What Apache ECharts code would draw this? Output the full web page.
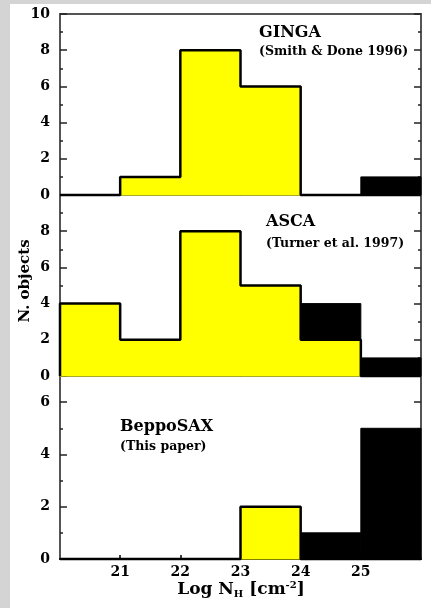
<!DOCTYPE html>
<html>
<head>
<meta charset="utf-8">
<script src="https://cdn.jsdelivr.net/npm/echarts@6/dist/echarts.min.js"></script>
<style>
  html, body { margin: 0; padding: 0; background: #d4d4d4; }
  #chart { width: 431px; height: 608px; }
</style>
</head>
<body>
<div id="chart"></div>
<script>
// Bin edges in Log N_H (cm^-2)
const binEdges = [20, 21, 22, 23, 24, 25, 26];
const xTickLabels = [21, 22, 23, 24, 25];

// Counts per bin: yellow = measured column, black = lower limit / Compton-thick
const gingaYellow = [0, 1, 8, 6, 0, 0];
const gingaBlack  = [0, 0, 0, 0, 0, 1];
const ascaYellow  = [4, 2, 8, 5, 2, 0];
const ascaBlack   = [0, 0, 0, 0, 2, 1];
const saxYellow   = [0, 0, 0, 2, 0, 0];
const saxBlack    = [0, 0, 0, 0, 1, 5];

// Y scales of the three panels
const yMax = [10, 10, 7];
const yMajor = [[0, 2, 4, 6, 8, 10], [0, 2, 4, 6, 8, 10], [0, 2, 4, 6]];
const yMinor = [[1, 3, 5, 7, 9], [1, 3, 5, 7, 9], [1, 3, 5, 7]];
const yLabels = [[0, 2, 4, 6, 8, 10], [0, 2, 4, 6, 8], [0, 2, 4, 6]];

const panels = [
  { yellow: gingaYellow, black: gingaBlack },
  { yellow: ascaYellow, black: ascaBlack },
  { yellow: saxYellow, black: saxBlack }
];

const FONT = 'DejaVu Serif';
const gridTops = [14, 195, 376];
const gridHeights = [181, 181, 183];

const grids = [], xAxes = [], yAxes = [], series = [];

panels.forEach((p, i) => {
  grids.push({
    left: 60, right: 10, top: gridTops[i], height: gridHeights[i],
    show: true, borderColor: '#555', borderWidth: 2, backgroundColor: 'transparent'
  });
  const last = i === panels.length - 1;
  xAxes.push({
    gridIndex: i, type: 'value', min: 20, max: 26,
    axisLine: { show: last, onZero: false, lineStyle: { color: '#000', width: 2 } },
    axisTick: { show: last, inside: true, length: 4, customValues: xTickLabels,
                lineStyle: { color: '#000', width: 1.5 } },
    axisLabel: { show: last, customValues: xTickLabels, margin: 6,
                 fontFamily: FONT, fontWeight: 'bold', fontSize: 14, color: '#000' },
    splitLine: { show: false }
  });
  ['left', 'right'].forEach(side => {
    yAxes.push({
      gridIndex: i, type: 'value', position: side, min: 0, max: yMax[i],
      axisLine: { show: false },
      axisTick: { show: true, inside: true, length: 7, customValues: yMajor[i],
                  lineStyle: { color: '#222', width: 1.5 } },
      axisLabel: { show: side === 'left', customValues: yLabels[i], margin: 10,
                   fontFamily: FONT, fontWeight: 'bold', fontSize: 14, color: '#000' },
      splitLine: { show: false }
    });
    yAxes.push({
      gridIndex: i, type: 'value', position: side, min: 0, max: yMax[i],
      axisLine: { show: false },
      axisTick: { show: true, inside: true, length: 3, customValues: yMinor[i],
                  lineStyle: { color: '#222', width: 1.5 } },
      axisLabel: { show: false },
      splitLine: { show: false }
    });
  });
  const yIdx = i * 4;

  // Filled bins: yellow from zero, black stacked on top of the yellow
  const binData = p.yellow.map((v, k) => [binEdges[k], binEdges[k + 1], v, p.black[k]]);
  series.push({
    type: 'custom', xAxisIndex: i, yAxisIndex: yIdx, z: 2,
    encode: { x: [0, 1], y: [2, 3] },
    data: binData,
    renderItem: (params, api) => {
      const x0 = api.value(0), x1 = api.value(1), yv = api.value(2), bv = api.value(3);
      const children = [];
      if (yv > 0) {
        const a = api.coord([x0, yv]), b = api.coord([x1, 0]);
        children.push({ type: 'rect', shape: { x: a[0], y: a[1], width: b[0] - a[0], height: b[1] - a[1] },
                        style: { fill: '#ffff00', stroke: '#ffff00', lineWidth: 1 } });
      }
      if (bv > 0) {
        const a = api.coord([x0, yv + bv]), b = api.coord([x1, yv]);
        children.push({ type: 'rect', shape: { x: a[0], y: a[1], width: b[0] - a[0], height: b[1] - a[1] },
                        style: { fill: '#000', stroke: '#000', lineWidth: 1 } });
      }
      return { type: 'group', children };
    }
  });

  // Step outline of the yellow histogram
  const outline = [[binEdges[0], 0]];
  p.yellow.forEach((v, k) => { outline.push([binEdges[k], v]); outline.push([binEdges[k + 1], v]); });
  outline.push([binEdges[binEdges.length - 1], 0]);
  series.push({
    type: 'line', xAxisIndex: i, yAxisIndex: yIdx, z: 3,
    data: outline, showSymbol: false, symbol: 'none', clip: false,
    lineStyle: { color: '#000', width: 2.5 }, silent: true
  });
});

const txt = (x, y, text, size) => ({
  type: 'text', x, y, z: 10,
  style: { text, fill: '#000', font: `bold ${size}px "${FONT}"`,
           textAlign: 'left', textVerticalAlign: 'middle' }
});

const chart = echarts.init(document.getElementById('chart'), null, { renderer: 'canvas' });
chart.setOption({
  backgroundColor: '#d4d4d4',
  animation: false,
  grid: grids,
  xAxis: xAxes,
  yAxis: yAxes,
  series,
  graphic: [
    { type: 'rect', shape: { x: 10, y: 4, width: 421, height: 604 }, style: { fill: '#fff' }, z: -10 },
    txt(259, 33, 'GINGA', 16),
    txt(259, 52, '(Smith & Done 1996)', 12.5),
    txt(266, 222, 'ASCA', 16),
    txt(266, 244, '(Turner et al. 1997)', 12.5),
    txt(120, 427, 'BeppoSAX', 16),
    txt(120, 447, '(This paper)', 12.5),
    { type: 'text', x: 25, y: 281, rotation: Math.PI / 2, z: 10,
      style: { text: 'N. objects', fill: '#000', font: `bold 15px "${FONT}"`,
               textAlign: 'center', textVerticalAlign: 'middle' } },
    { type: 'text', x: 241, y: 590, z: 10,
      style: {
        text: 'Log N{sub|H} [cm{sup|-2}]',
        fill: '#000', font: `bold 17px "${FONT}"`,
        textAlign: 'center', textVerticalAlign: 'middle',
        rich: {
          sub: { font: `bold 10px "${FONT}"`, fill: '#000', verticalAlign: 'bottom', padding: [9, 0, 0, 0] },
          sup: { font: `bold 10px "${FONT}"`, fill: '#000', verticalAlign: 'top', padding: [0, 0, 9, 0] }
        }
      } }
  ]
});
</script>
</body>
</html>
